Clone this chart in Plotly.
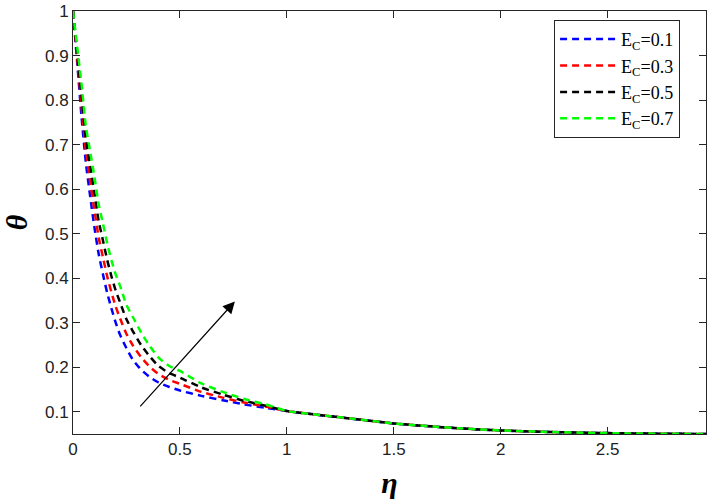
import plotly.graph_objects as go

eta = [0, 0.02, 0.04, 0.06, 0.08, 0.10, 0.12, 0.14, 0.16, 0.18, 0.20, 0.22, 0.25, 0.28,
       0.32, 0.36, 0.40, 0.45, 0.50, 0.60, 0.70, 0.80, 0.90, 1.00, 1.10, 1.20, 1.30,
       1.40, 1.50, 1.60, 1.70, 1.80, 1.90, 2.00, 2.20, 2.40, 2.60, 2.80, 2.96]

tail = [0.0960, 0.0905, 0.0850, 0.0795, 0.0740, 0.0702, 0.0665, 0.0633, 0.0606,
        0.0584, 0.0553, 0.0532, 0.0518, 0.0509, 0.0504]

theta_ec01 = [1.0, 0.882, 0.762, 0.660, 0.585, 0.515, 0.455, 0.409, 0.367, 0.332, 0.300,
              0.273, 0.243, 0.217, 0.194, 0.178, 0.166, 0.156, 0.148, 0.136, 0.126,
              0.117, 0.109, 0.102] + tail
theta_ec03 = [1.0, 0.894, 0.786, 0.687, 0.618, 0.553, 0.492, 0.447, 0.404, 0.368, 0.336,
              0.310, 0.275, 0.249, 0.222, 0.201, 0.185, 0.172, 0.163, 0.145, 0.132,
              0.121, 0.112, 0.102] + tail
theta_ec05 = [1.0, 0.905, 0.811, 0.715, 0.652, 0.590, 0.529, 0.485, 0.441, 0.404, 0.372,
              0.346, 0.308, 0.281, 0.249, 0.224, 0.203, 0.187, 0.177, 0.155, 0.139,
              0.125, 0.114, 0.102] + tail
theta_ec07 = [1.0, 0.917, 0.835, 0.742, 0.685, 0.628, 0.566, 0.523, 0.478, 0.440, 0.408,
              0.383, 0.340, 0.313, 0.277, 0.247, 0.222, 0.203, 0.192, 0.164, 0.145,
              0.129, 0.117, 0.102] + tail

series = [
    ("E<sub>C</sub>=0.1", theta_ec01, "#0000FF"),
    ("E<sub>C</sub>=0.3", theta_ec03, "#FF0000"),
    ("E<sub>C</sub>=0.5", theta_ec05, "#000000"),
    ("E<sub>C</sub>=0.7", theta_ec07, "#00FF00"),
]

x_ticks = [0, 0.5, 1, 1.5, 2, 2.5]
y_ticks = [0.1, 0.2, 0.3, 0.4, 0.5, 0.6, 0.7, 0.8, 0.9, 1]
arrow_start = (0.308, 0.109)
arrow_end = (0.757, 0.348)

fig = go.Figure()
for i, (name, vals, col) in enumerate(series):
    fig.add_trace(go.Scatter(
        x=eta, y=vals, mode="lines", name=name, legendgroup=f"g{i}",
        line=dict(color=col, width=2.5, dash="7px,5px", shape="spline", smoothing=0.6),
    ))

fig.add_annotation(
    x=arrow_end[0], y=arrow_end[1], ax=arrow_start[0], ay=arrow_start[1],
    xref="x", yref="y", axref="x", ayref="y", text="", showarrow=True,
    arrowhead=2, arrowsize=2.0, arrowwidth=1.2, arrowcolor="black",
)

axis_common = dict(
    showline=True, linecolor="#262626", linewidth=1, mirror="ticks",
    ticks="inside", ticklen=7, tickcolor="#262626", showgrid=False, zeroline=False,
    ticklabeloverflow="allow",
    tickfont=dict(family="Liberation Sans", size=17, color="#222222"),
)

fig.update_layout(
    width=709, height=499,
    margin=dict(l=73, r=2, t=6, b=65),
    paper_bgcolor="white", plot_bgcolor="white",
    xaxis=dict(range=[0, 2.96], tickvals=x_ticks, ticktext=[str(v) for v in x_ticks],
               title=dict(text="<b><i>η</i></b>", standoff=14,
                          font=dict(family="Liberation Serif", size=30, color="black")),
               **axis_common),
    yaxis=dict(range=[0.0504, 1.0], tickvals=y_ticks, ticktext=[str(v) for v in y_ticks],
               title=dict(text="<b><i>θ</i></b>", standoff=22,
                          font=dict(family="Liberation Serif", size=30, color="black")),
               **axis_common),
    legend=dict(x=0.76, y=0.979, xanchor="left", yanchor="top",
                bordercolor="#262626", borderwidth=1, bgcolor="white",
                font=dict(family="Liberation Serif", size=18, color="black"),
                tracegroupgap=0, itemwidth=56),
    showlegend=True,
)

fig.write_html("out.html")
